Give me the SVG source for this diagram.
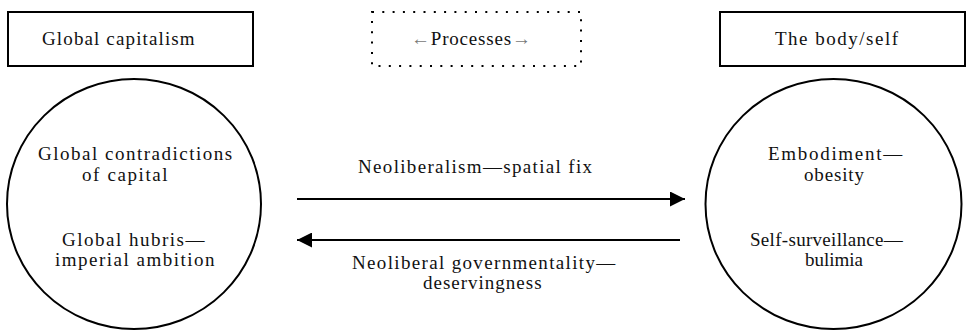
<svg xmlns="http://www.w3.org/2000/svg" width="966" height="330" viewBox="0 0 966 330">
<style>
  .t { font-family: "Liberation Serif", "Times New Roman", serif; font-size: 19px; fill: #111; }
  .box { fill: #fff; stroke: #000; stroke-width: 2; }
  .dot { fill: none; stroke: #000; stroke-width: 2; stroke-dasharray: 2 8.3; }
  .circ { fill: #fff; stroke: #000; stroke-width: 2; }
  .conn { stroke: #000; stroke-width: 2; fill: none; }
  .gray { fill: #777; }
</style>
<defs>
  <marker id="ah" viewBox="0 0 10 10" refX="10" refY="5" markerWidth="16" markerHeight="15" markerUnits="userSpaceOnUse" orient="auto">
    <path d="M0,0 L10,5 L0,10 Z" fill="#000"/>
  </marker>
</defs>

<g id="global-capitalism">
  <rect class="box" x="8" y="12" width="245" height="54"/>
  <text class="t" x="42" y="45" letter-spacing="1.13">Global capitalism</text>
</g>

<g id="processes">
  <rect class="dot" x="372" y="12" width="209" height="54"/>
  <text class="t" x="411" y="45" letter-spacing="0.8"><tspan class="gray">←</tspan>Processes<tspan class="gray">→</tspan></text>
</g>

<g id="body-self">
  <rect class="box" x="720" y="12" width="245" height="54"/>
  <text class="t" x="775" y="45" letter-spacing="1.5">The body/self</text>
</g>

<g id="left-circle">
  <ellipse class="circ" cx="134" cy="204" rx="127" ry="125"/>
  <text class="t" x="38" y="160" letter-spacing="1.5">Global contradictions</text>
  <text class="t" x="82" y="181" letter-spacing="1.6">of capital</text>
  <text class="t" x="62" y="246" letter-spacing="1.5">Global hubris—</text>
  <text class="t" x="55" y="266" letter-spacing="1.5">imperial ambition</text>
</g>

<g id="right-circle">
  <ellipse class="circ" cx="833.5" cy="204" rx="128" ry="125"/>
  <text class="t" x="768" y="160" letter-spacing="1.7">Embodiment—</text>
  <text class="t" x="804" y="181" letter-spacing="0.85">obesity</text>
  <text class="t" x="750" y="246" letter-spacing="0.3">Self-surveillance—</text>
  <text class="t" x="805" y="266">bulimia</text>
</g>

<g id="connectors">
  <line class="conn" x1="297" y1="199" x2="685" y2="199" marker-end="url(#ah)"/>
  <line class="conn" x1="680" y1="240" x2="297" y2="240" marker-end="url(#ah)"/>
  <text class="t" x="358" y="173" letter-spacing="1.33">Neoliberalism—spatial fix</text>
  <text class="t" x="352" y="269" letter-spacing="1.34">Neoliberal governmentality—</text>
  <text class="t" x="423" y="289" letter-spacing="1.0">deservingness</text>
</g>
</svg>
